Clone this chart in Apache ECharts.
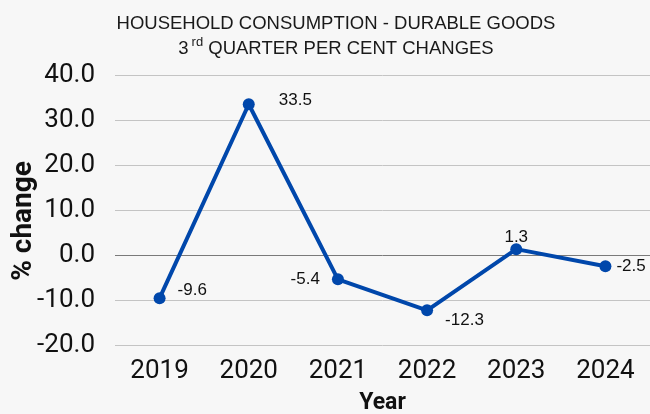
<!DOCTYPE html>
<html>
<head>
<meta charset="utf-8">
<script src="https://cdn.jsdelivr.net/npm/echarts@6/dist/echarts.min.js"></script>
<style>
  html, body { margin: 0; padding: 0; background: #f7f7f7; }
  #chart { width: 650px; height: 414px; }
</style>
</head>
<body>
<div id="chart"></div>
<script>
var years = ["2019", "2020", "2021", "2022", "2023", "2024"];
var changes = [-9.6, 33.5, -5.4, -12.3, 1.3, -2.5];
var labelSpots = ["right", "right", "left", "right", "top", "right"];
// nudges so the labels sit where the original put them
var labelNudges = [[4, -8], [16, -4], [-4, 0], [4, 10], [0, 11], [-3, 0]];

var dom = document.getElementById("chart");
var myChart = echarts.init(dom);

var points = changes.map(function(v, i) {
  return {
    value: v,
    label: { position: labelSpots[i], offset: labelNudges[i] }
  };
});

var option = {
  backgroundColor: "#f7f7f7",
  title: {
    text: "HOUSEHOLD CONSUMPTION - DURABLE GOODS\n{n|3}{sup|rd}{n| QUARTER PER CENT CHANGES}",
    left: 331,
    textAlign: "center",
    top: 6,
    textStyle: {
      fontFamily: "Liberation Sans",
      fontSize: 18.5,
      fontWeight: "normal",
      color: "#1a1a1a",
      lineHeight: 25,
      rich: {
        n: { fontFamily: "Liberation Sans", fontSize: 18.5, color: "#1a1a1a", lineHeight: 25 },
        sup: { fontFamily: "Liberation Sans", fontSize: 13, color: "#1a1a1a", verticalAlign: "top", padding: [0, 0, 9, 3] }
      }
    }
  },
  grid: {
    left: 115,
    right: 0,
    top: 75,
    bottom: 69,
    outerBoundsMode: "none",
    containLabel: false
  },
  xAxis: {
    type: "category",
    data: years,
    boundaryGap: true,
    axisLine: { show: false },
    axisTick: { show: false },
    axisLabel: {
      fontFamily: "Roboto",
      fontSize: 26,
      color: "#111",
      margin: 13
    },
    name: "Year",
    nameLocation: "middle",
    nameGap: 47,
    nameMoveOverlap: false,
    nameTextStyle: {
      fontFamily: "Roboto",
      fontSize: 23,
      fontWeight: "bold",
      color: "#111"
    }
  },
  yAxis: {
    type: "value",
    min: -20,
    max: 40,
    interval: 10,
    axisLine: { show: false },
    axisTick: { show: false },
    axisLabel: {
      fontFamily: "Roboto",
      fontSize: 26,
      color: "#111",
      margin: 20,
      formatter: function(v) {
        return v.toFixed(1);
      }
    },
    splitLine: {
      lineStyle: {
        color: ["#c4c4c4", "#c4c4c4", "#7a7a7a", "#c4c4c4", "#c4c4c4", "#c4c4c4", "#c4c4c4"],
        width: 1
      }
    },
    name: "% change",
    nameLocation: "middle",
    nameGap: 77,
    nameRotate: 90,
    nameMoveOverlap: false,
    nameTextStyle: {
      fontFamily: "Roboto",
      fontSize: 28,
      fontWeight: "bold",
      color: "#111",
      padding: [0, 22, 0, 0]
    }
  },
  series: [
    {
      type: "line",
      data: points,
      symbol: "circle",
      symbolSize: 12,
      lineStyle: { color: "#0047ab", width: 4 },
      itemStyle: { color: "#0047ab" },
      label: {
        show: true,
        fontFamily: "Liberation Sans",
        fontSize: 17,
        color: "#111",
        distance: 8,
        formatter: function(p) {
          return p.value.toFixed(1);
        }
      },
      z: 3
    }
  ]
};
myChart.setOption(option, true);
</script>
</body>
</html>
